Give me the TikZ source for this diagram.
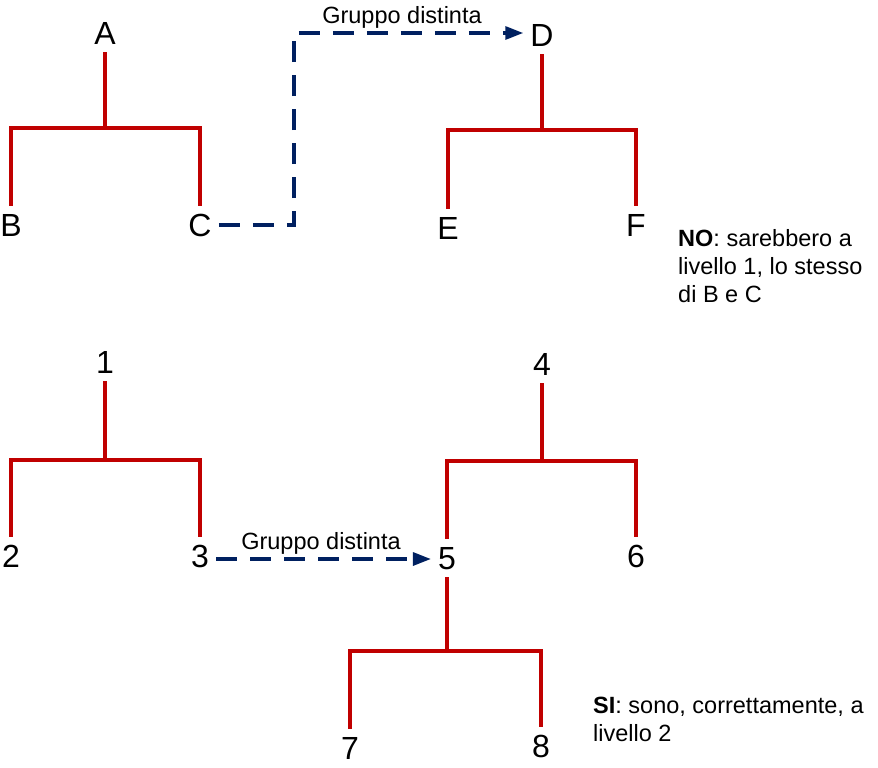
\documentclass[tikz,border=0pt]{standalone}
\usepackage{fontspec}
\setmainfont{Liberation Sans}
\usetikzlibrary{arrows.meta}
\definecolor{treered}{RGB}{192,0,0}
\definecolor{linkblue}{RGB}{0,32,96}
\tikzset{
  lett/.style={inner xsep=7pt, inner ysep=7.5pt, text height=23pt, text depth=0pt, font=\fontsize{32}{36}\selectfont},
  tree/.style={draw=treered, line width=4pt},
  link/.style={draw=linkblue, line width=3.2pt, dash pattern=on 21pt off 13pt, -{Triangle[length=18pt,width=13pt]}},
  lab/.style={inner sep=0pt, font=\fontsize{23.5}{27}\selectfont},
  note/.style={inner sep=0pt, align=left, font=\fontsize{23.5}{28}\selectfont}
}
\begin{document}
\begin{tikzpicture}[x=1pt,y=-1pt]
\useasboundingbox (0,0) rectangle (878,768);
% top left tree
\node[lett] (A) at (105,33) {A};
\node[lett] (B) at (11,225) {B};
\node[lett] (C) at (200,225) {C};
\coordinate (jA) at (105,128);
\draw[tree] (A.south) -- (jA);
\draw[tree] (B.north) |- (jA) -| (C.north);
% top right tree
\node[lett] (D) at (542,35) {D};
\node[lett] (E) at (448,228) {E};
\node[lett] (F) at (636,225) {F};
\coordinate (jD) at (542,130);
\draw[tree] (D.south) -- (jD);
\draw[tree] (E.north) |- (jD) -| (F.north);
% dashed link C -> D
\coordinate (k1) at (294,33);
\draw[link] (C.east) -| (k1) -- (k1 -| D.west);
\node[lab] (g1) at (402,17) {Gruppo distinta};
% NO text
\node[note, anchor=north west] (no) at (678,229) {\textbf{NO}: sarebbero a\\livello 1, lo stesso\\di B e C};
% bottom left tree
\node[lett] (n1) at (105,362) {1};
\node[lett] (n2) at (11,556) {2};
\node[lett] (n3) at (200,556) {3};
\coordinate (j1) at (105,460);
\draw[tree] (n1.south) -- (j1);
\draw[tree] (n2.north) |- (j1) -| (n3.north);
% tree 4
\node[lett] (n4) at (542,364) {4};
\node[lett] (n5) at (447,558) {5};
\node[lett] (n6) at (636,556) {6};
\coordinate (j4) at (542,461);
\draw[tree] (n4.south) -- (j4);
\draw[tree] (n5.north) |- (j4) -| (n6.north);
% tree 5
\node[lett] (n7) at (350,748) {7};
\node[lett] (n8) at (541,746) {8};
\coordinate (j5) at (447,651);
\draw[tree] (n5.south) -- (j5);
\draw[tree] (n7.north) |- (j5) -| (n8.north);
% dashed link 3 -> 5
\draw[link] (n3.east |- 0,559) -- (n5.west |- 0,559);
\node[lab] (g2) at (321,543) {Gruppo distinta};
% SI text
\node[note, anchor=north west] (si) at (593,697) {\textbf{SI}: sono, correttamente, a\\livello 2};
\end{tikzpicture}
\end{document}
